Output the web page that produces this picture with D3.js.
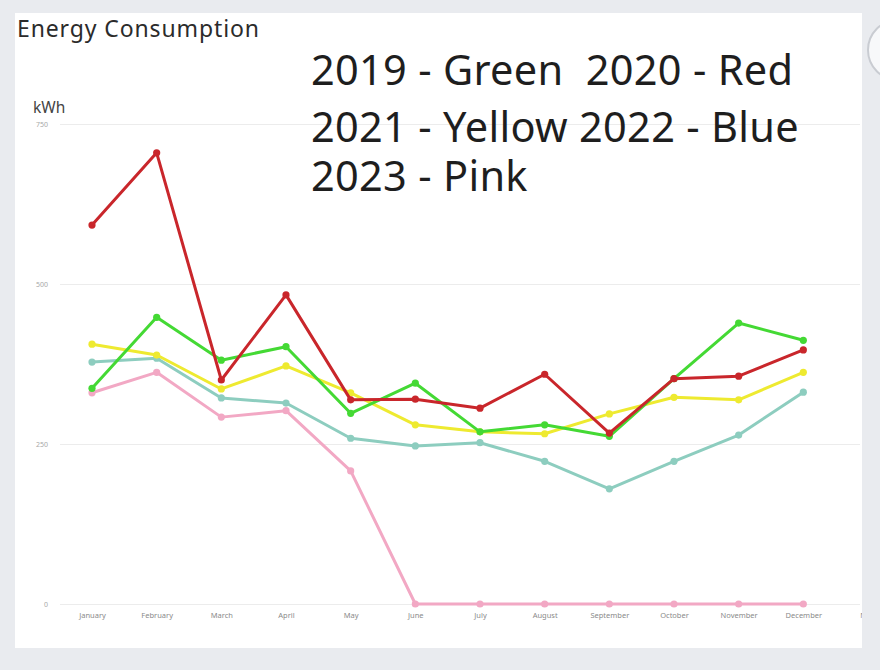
<!DOCTYPE html>
<html lang="en">

<head>
    <title>Energy Consumption</title>
    <meta charset="utf-8">
    <script src="https://d3js.org/d3.v7.min.js"></script>
    <style>
        body { margin: 0; background: #e9ebef; font-family: "Noto Sans", "Open Sans", sans-serif; }
        svg { display: block; }
    </style>
</head>

<body>
    <div id="container"></div>
    <script>
        // Data
        const months = ["January", "February", "March", "April", "May", "June", "July",
            "August", "September", "October", "November", "December", "Next"];
        const yTicks = [0, 250, 500, 750];

        const y2019 = [337, 448, 381, 402, 298, 345, 269, 280, 262, 352, 439, 412];
        const y2020 = [592, 705, 350, 483, 319, 320, 306, 359, 267, 352, 356, 397];
        const y2021 = [406, 389, 336, 372, 330, 280, 269, 266, 297, 323, 319, 362];
        const y2022 = [378, 384, 322, 314, 259, 247, 252, 223, 180, 223, 264, 331];
        const y2023 = [330, 362, 292, 302, 208, 0, 0, 0, 0, 0, 0, 0];

        const legendLines = ["2019 - Green  2020 - Red", "2021 - Yellow 2022 - Blue", "2023 - Pink"];

        const series = [
            { name: "2023", values: y2023, color: "#f2a8c4" },
            { name: "2022", values: y2022, color: "#8dcdbf" },
            { name: "2021", values: y2021, color: "#eeea30" },
            { name: "2019", values: y2019, color: "#44d934" },
            { name: "2020", values: y2020, color: "#c9262b" }
        ];

        // Dimensions
        const width = 880;
        const height = 670;

        const svg = d3.select("#container")
            .append("svg")
            .attr("width", width)
            .attr("height", height);

        // Card
        const defs = svg.append("defs");
        defs.append("clipPath")
            .attr("id", "card-clip")
            .append("rect")
            .attr("x", 15).attr("y", 13)
            .attr("width", 847).attr("height", 635);

        svg.append("circle")
            .attr("cx", 898).attr("cy", 50).attr("r", 30)
            .attr("fill", "#f7f8fa")
            .attr("stroke", "#c9ccd2")
            .attr("stroke-width", 2);

        svg.append("rect")
            .attr("x", 15).attr("y", 13)
            .attr("width", 847).attr("height", 635)
            .attr("fill", "white");

        const card = svg.append("g").attr("clip-path", "url(#card-clip)");

        // Scales
        const x = d3.scalePoint()
            .domain(months)
            .range([92, 868]);

        const y = d3.scaleLinear()
            .domain([0, 750])
            .range([604, 124]);

        // Grid + y axis
        const yAxis = card.append("g")
            .attr("class", "y-axis")
            .attr("transform", "translate(60,0)")
            .call(d3.axisLeft(y).tickValues(yTicks).tickSize(-800).tickPadding(12));

        yAxis.select(".domain").remove();
        yAxis.selectAll(".tick line")
            .attr("stroke", "#ececec")
            .attr("stroke-width", 1);
        yAxis.selectAll(".tick text")
            .attr("fill", "#a8a8a8")
            .attr("font-size", 7)
            .attr("font-family", "Noto Sans, sans-serif");

        // X axis labels
        const xAxis = card.append("g")
            .attr("class", "x-axis")
            .attr("transform", "translate(0,604)")
            .call(d3.axisBottom(x).tickSize(0).tickPadding(9));

        xAxis.select(".domain").remove();
        xAxis.selectAll(".tick text")
            .attr("fill", "#8a8a8a")
            .attr("font-size", 7.5)
            .attr("font-family", "Noto Sans, sans-serif");

        // Lines
        const line = d3.line()
            .x((d, i) => x(months[i]))
            .y(d => y(d));

        series.forEach(s => {
            const g = card.append("g").attr("class", "series-" + s.name);
            g.append("path")
                .datum(s.values)
                .attr("d", line)
                .attr("fill", "none")
                .attr("stroke", s.color)
                .attr("stroke-width", 3)
                .attr("stroke-linejoin", "round");
            g.selectAll("circle")
                .data(s.values)
                .enter().append("circle")
                .attr("cx", (d, i) => x(months[i]))
                .attr("cy", d => y(d))
                .attr("r", 3.6)
                .attr("fill", s.color);
        });

        // Title and unit
        svg.append("text")
            .attr("x", 17)
            .attr("y", 37)
            .attr("font-size", 23)
            .attr("textLength", 242)
            .attr("lengthAdjust", "spacing")
            .attr("fill", "#2b2b2b")
            .text("Energy Consumption");

        svg.append("text")
            .attr("x", 33)
            .attr("y", 113)
            .attr("font-size", 15.5)
            .attr("fill", "#444")
            .text("kWh");

        // Legend text
        svg.append("g")
            .attr("class", "legend")
            .selectAll("text")
            .data(legendLines)
            .enter().append("text")
            .attr("x", 311)
            .attr("y", (d, i) => [85, 142, 191][i])
            .attr("font-size", 41.5)
            .attr("letter-spacing", 0.3)
            .attr("fill", "#1e1e1e")
            .attr("xml:space", "preserve")
            .style("white-space", "pre")
            .text(d => d);
    </script>
</body>

</html>
